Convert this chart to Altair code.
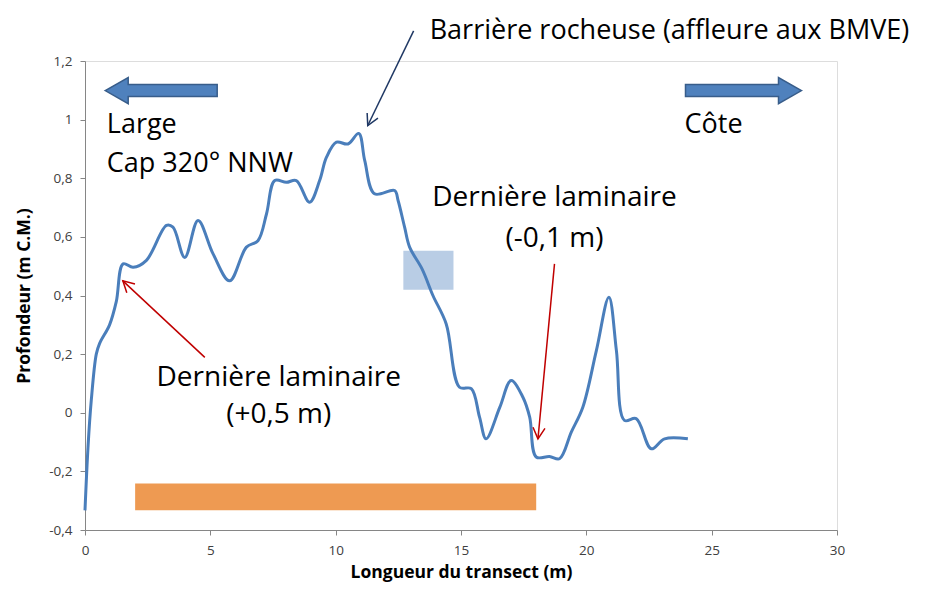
import math
import altair as alt
import pandas as pd

# ---- profile data (x: transect length m, y: depth m C.M.) ----
prof_x = [0, 0.12, 0.25, 0.45, 0.58, 0.98, 1.25, 1.52, 1.92, 2.45, 3.25, 3.51, 3.98,
          4.51, 5.11, 5.77, 6.44, 6.90, 7.24, 7.57, 8.03, 8.43, 8.96, 9.36, 9.63,
          10.03, 10.49, 10.92, 11.16, 11.55, 12.35, 12.49, 12.75, 12.95, 13.45, 13.88,
          14.41, 14.94, 15.41, 15.74, 16.0, 16.55, 17.0, 17.47, 17.74, 18.0, 18.53,
          18.93, 19.40, 19.86, 20.4, 20.90, 21.2, 21.52, 21.99, 22.59, 23.12, 24.05]
prof_y = [-0.333, -0.117, 0.042, 0.20, 0.236, 0.30, 0.38, 0.508, 0.496, 0.52, 0.639, 0.633, 0.53,
          0.656, 0.542, 0.45, 0.565, 0.587, 0.678, 0.792, 0.786, 0.792, 0.718, 0.792, 0.871,
          0.923, 0.917, 0.953, 0.86, 0.747, 0.758, 0.724, 0.633, 0.565, 0.49, 0.40,
          0.303, 0.087, 0.082, -0.015, -0.089, 0.019, 0.110, 0.053, -0.015, -0.151, -0.149,
          -0.157, -0.066, 0.019, 0.212, 0.394, 0.212, -0.026, -0.020, -0.123, -0.089, -0.089]

# ---- zones ----
zone_x1 = [2.0, 12.7]
zone_x2 = [18.0, 14.7]
zone_y1 = [-0.333, 0.42]
zone_y2 = [-0.241, 0.553]
zone_color = ["#ee9a52", "#b9cde5"]

# ---- annotation arrows (start -> end) ----
arr_x1 = [13.11, 4.78, 18.73]
arr_y1 = [1.303, 0.189, 0.508]
arr_x2 = [11.28, 1.51, 18.07]
arr_y2 = [0.98, 0.45, -0.089]
arr_color = ["#1f3864", "#c00000", "#c00000"]

# ---- annotation texts ----
txt_label = ["Barrière rocheuse (affleure aux BMVE)", "Large", "Cap 320° NNW", "Côte",
             "Dernière laminaire", "(-0,1 m)", "Dernière laminaire", "(+0,5 m)"]
txt_x = [13.75, 0.87, 0.87, 23.92, 18.73, 18.73, 7.73, 7.73]
txt_y = [1.303, 0.98, 0.85, 0.98, 0.731, 0.594, 0.117, -0.006]
txt_align = ["left", "left", "left", "left", "center", "center", "center", "center"]

# ---- direction block arrows ----
dir_x = [3.04, 26.27]
dir_y = [1.099, 1.099]
dir_name = ["left", "right"]

X_DOM = [0, 30]
Y_DOM = [-0.4, 1.2]
W, H = 752, 469
PX_X = W / (X_DOM[1] - X_DOM[0])
PX_Y = H / (Y_DOM[1] - Y_DOM[0])

prof = pd.DataFrame({"x": prof_x, "y": prof_y})
zones = pd.DataFrame({"x1": zone_x1, "x2": zone_x2, "y1": zone_y1, "y2": zone_y2, "c": zone_color})
arrows = pd.DataFrame({"x1": arr_x1, "y1": arr_y1, "x2": arr_x2, "y2": arr_y2, "c": arr_color})
arrows["angle"] = [
    (math.degrees(math.atan2((b - a) * PX_X, (d - c) * PX_Y)) + 360) % 360
    for a, b, c, d in zip(arr_x1, arr_x2, arr_y1, arr_y2)
]
texts = pd.DataFrame({"t": txt_label, "x": txt_x, "y": txt_y, "al": txt_align})
dirs = pd.DataFrame({"x": dir_x, "y": dir_y, "n": dir_name})

xs = alt.Scale(domain=X_DOM, nice=False, zero=False)
ys = alt.Scale(domain=Y_DOM, nice=False, zero=False)

FONT = "Open Sans"

xaxis = alt.Axis(values=[0, 5, 10, 15, 20, 25, 30], grid=False, domainColor="#868686",
                 tickColor="#868686", tickSize=5, labelFontSize=13.5, labelColor="#404040",
                 labelFont=FONT, labelPadding=8, labelFlush=False,
                 title="Longueur du transect (m)",
                 titleFont=FONT, titleFontSize=17.5, titleFontWeight="bold", titleColor="#000000",
                 titlePadding=7)
yaxis = alt.Axis(values=[-0.4, -0.2, 0, 0.2, 0.4, 0.6, 0.8, 1.0, 1.2], grid=False,
                 domainColor="#868686", tickColor="#868686", tickSize=5, labelFontSize=13.5,
                 labelColor="#404040", labelFont=FONT, labelPadding=8, labelFlush=False,
                 labelExpr="replace(toString(datum.value), '.', ',')",
                 title="Profondeur (m C.M.)", titleFont=FONT, titleFontSize=17.5,
                 titleFontWeight="bold", titleColor="#000000", titlePadding=15)

zone_layer = alt.Chart(zones).mark_rect().encode(
    x=alt.X("x1:Q", scale=xs, axis=xaxis), x2="x2:Q",
    y=alt.Y("y1:Q", scale=ys, axis=yaxis), y2="y2:Q",
    color=alt.Color("c:N", scale=None),
)

line_layer = alt.Chart(prof).mark_line(color="#4a7ebb", strokeWidth=3, interpolate="catmull-rom").encode(
    x=alt.X("x:Q", scale=xs), y=alt.Y("y:Q", scale=ys)
)

rule_layer = alt.Chart(arrows).mark_rule(strokeWidth=1.5).encode(
    x=alt.X("x1:Q", scale=xs), y=alt.Y("y1:Q", scale=ys), x2="x2:Q", y2="y2:Q",
    color=alt.Color("c:N", scale=None),
)

head_layer = alt.Chart(arrows).mark_point(
    shape="M -6 11 L 0 0 L 6 11", filled=False, size=4, strokeWidth=1.5, opacity=1
).encode(
    x=alt.X("x2:Q", scale=xs), y=alt.Y("y2:Q", scale=ys),
    stroke=alt.Color("c:N", scale=None), angle=alt.Angle("angle:Q", scale=None),
)

left_dir = alt.Chart(dirs[dirs.n == "left"]).mark_point(
    shape="M -56 0 L -33 -13 L -33 -6 L 56 -6 L 56 6 L -33 6 L -33 13 Z",
    size=4, filled=True, fill="#4f81bd", stroke="#385d8a", strokeWidth=1.5, opacity=1
).encode(x=alt.X("x:Q", scale=xs), y=alt.Y("y:Q", scale=ys))

right_dir = alt.Chart(dirs[dirs.n == "right"]).mark_point(
    shape="M 58 0 L 35 -13 L 35 -6 L -58 -6 L -58 6 L 35 6 L 35 13 Z",
    size=4, filled=True, fill="#4f81bd", stroke="#385d8a", strokeWidth=1.5, opacity=1
).encode(x=alt.X("x:Q", scale=xs), y=alt.Y("y:Q", scale=ys))

text_left = alt.Chart(texts[texts.al == "left"]).mark_text(
    font=FONT, fontSize=27, align="left", baseline="middle", color="#000000"
).encode(x=alt.X("x:Q", scale=xs), y=alt.Y("y:Q", scale=ys), text="t:N")

text_center = alt.Chart(texts[texts.al == "center"]).mark_text(
    font=FONT, fontSize=28, align="center", baseline="middle", color="#000000"
).encode(x=alt.X("x:Q", scale=xs), y=alt.Y("y:Q", scale=ys), text="t:N")

chart = alt.layer(
    zone_layer, line_layer, rule_layer, head_layer, left_dir, right_dir, text_left, text_center
).properties(
    width=W, height=H,
    autosize=alt.AutoSizeParams(type="none"),
    padding={"left": 77, "top": 53, "right": 96, "bottom": 62},
).configure_view(stroke=None).configure(background="white")

chart.save("out.html", embed_options={"renderer": "svg", "actions": False})
